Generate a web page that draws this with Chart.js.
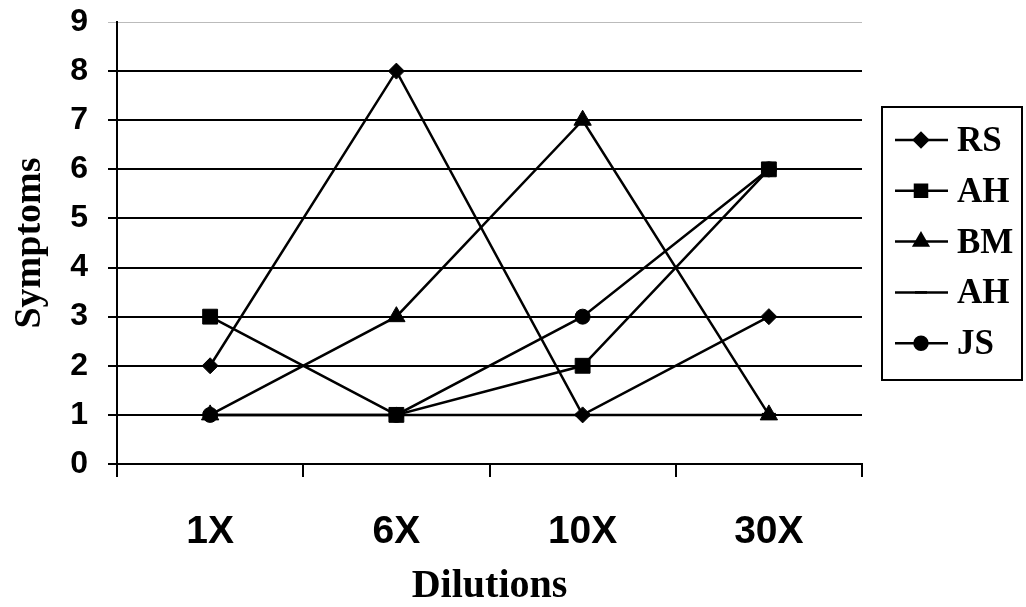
<!DOCTYPE html>
<html>
<head>
<meta charset="utf-8">
<script src="https://cdn.jsdelivr.net/npm/chart.js@4/dist/chart.umd.min.js"></script>
<style>
  html, body { margin: 0; padding: 0; background: #fff; }
  #wrap { width: 1026px; height: 607px; }
</style>
</head>
<body>
<div id="wrap"><canvas id="grafico" width="1026" height="607"></canvas></div>
<script>
const categorias = ['1X', '6X', '10X', '30X'];
const nomesSeries = ['RS', 'AH', 'BM', 'AH', 'JS'];
const valoresRS = [2, 8, 1, 3];
const valoresAH = [3, 1, 2, 6];
const valoresBM = [1, 3, 7, 1];
const valoresAH2 = [1, 1, 1, 1];
const valoresJS = [1, 1, 3, 6];
const ticksY = [0, 1, 2, 3, 4, 5, 6, 7, 8, 9];

const estilos = ['rectRot', 'rect', 'triangle', 'line', 'circle'];
const raios = [8, 10.5, 10, 7, 7.5];
const raiosLegenda = [7, 8.5, 8, 6, 6.5];
const todosValores = [valoresRS, valoresAH, valoresBM, valoresAH2, valoresJS];

const datasets = todosValores.map((valores, i) => ({
    label: nomesSeries[i],
    data: valores,
    borderColor: '#000',
    backgroundColor: '#000',
    borderWidth: 2.5,
    pointStyle: estilos[i],
    pointRadius: raios[i],
    pointBorderWidth: i === 3 ? 4 : 1,
    tension: 0,
}));

// legenda desenhada a mao, linha + marcador como no original
const legendaCaixa = {
    id: 'legendaCaixa',
    afterDraw(chart) {
        const ctx = chart.ctx;
        const x0 = 882, y0 = 107, w = 140, h = 273;
        ctx.save();
        ctx.strokeStyle = '#000';
        ctx.lineWidth = 2;
        ctx.strokeRect(x0, y0, w, h);
        ctx.font = 'bold 35px "Liberation Serif"';
        ctx.textBaseline = 'middle';
        ctx.fillStyle = '#000';
        chart.data.datasets.forEach((ds, i) => {
            const y = 140 + i * 50.8;
            ctx.lineWidth = 2.5;
            ctx.beginPath();
            ctx.moveTo(895, y);
            ctx.lineTo(948, y);
            ctx.stroke();
            Chart.helpers.drawPoint(ctx, {
                pointStyle: ds.pointStyle,
                radius: raiosLegenda[i],
                borderWidth: ds.pointBorderWidth,
                rotation: 0,
            }, 921, y);
            ctx.fill();
            ctx.fillText(ds.label, 957, y + 2);
        });
        ctx.restore();
    }
};

new Chart(document.getElementById('grafico').getContext('2d'), {
    type: 'line',
    data: { labels: categorias, datasets: datasets },
    options: {
        responsive: false,
        animation: false,
        layout: { padding: { top: 22, right: 164, left: 0, bottom: 0 } },
        plugins: {
            legend: { display: false },
            tooltip: { enabled: false },
        },
        scales: {
            x: {
                offset: true,
                afterFit: (scale) => { scale.height = 143; },
                border: { color: '#000', width: 2 },
                grid: {
                    offset: true,
                    drawOnChartArea: false,
                    color: '#000',
                    lineWidth: 2,
                    tickLength: 13,
                },
                ticks: {
                    color: '#000',
                    padding: 32,
                    maxRotation: 0,
                    font: { family: 'Liberation Sans', size: 39, weight: 'bold' },
                },
                title: {
                    display: true,
                    text: 'Dilutions',
                    color: '#000',
                    padding: { top: 0, bottom: -4 },
                    font: { family: 'Liberation Serif', size: 40, weight: 'bold' },
                },
            },
            y: {
                min: 0,
                max: 9,
                afterFit: (scale) => {
                    scale.width = 117;
                    scale.paddingTop = 0;
                    scale.paddingBottom = 0;
                },
                afterBuildTicks: (axis) => { axis.ticks = ticksY.map(v => ({ value: v })); },
                border: { color: '#000', width: 2 },
                grid: {
                    color: (c) => c.tick && c.tick.value === 9 ? '#bbb' : '#000',
                    lineWidth: (c) => c.tick && c.tick.value === 9 ? 1 : 2,
                    tickLength: 9,
                },
                ticks: {
                    color: '#000',
                    padding: 20,
                    font: { family: 'Liberation Sans', size: 32, weight: 'bold' },
                },
                title: {
                    display: true,
                    text: 'Symptoms',
                    color: '#000',
                    padding: { top: 7, bottom: 0 },
                    font: { family: 'Liberation Serif', size: 38, weight: 'bold' },
                },
            },
        },
    },
    plugins: [legendaCaixa],
});
</script>
</body>
</html>
